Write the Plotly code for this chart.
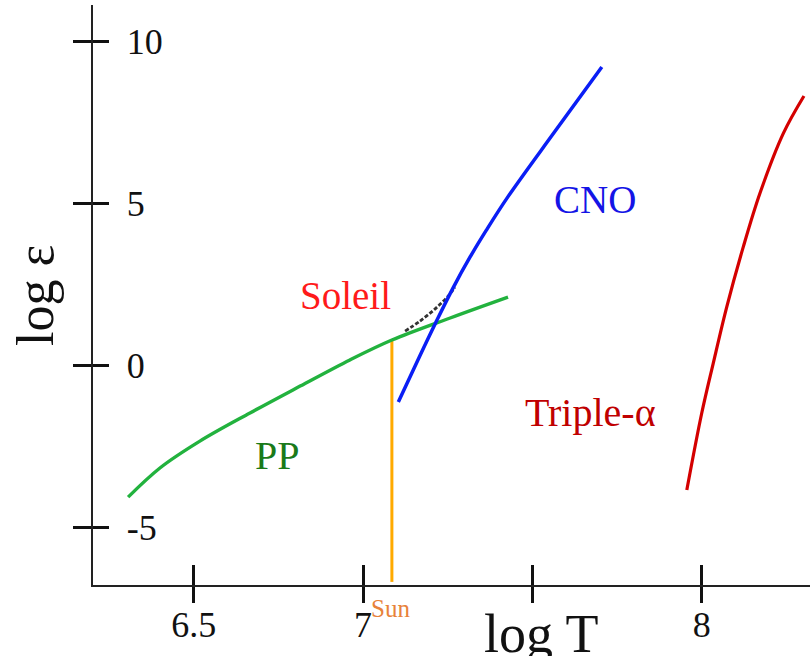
import plotly.graph_objects as go

# ---- data (log T, log epsilon) ----
pp_logT = [6.306, 6.400, 6.518, 6.666, 6.814, 6.961, 7.085, 7.257, 7.428]
pp_logE = [-4.07, -3.17, -2.34, -1.47, -0.64, 0.17, 0.785, 1.465, 2.11]

cno_logT = [7.104, 7.166, 7.214, 7.267, 7.316, 7.364, 7.427, 7.563, 7.705]
cno_logE = [-1.13, 0.26, 1.31, 2.42, 3.35, 4.18, 5.20, 7.18, 9.22]

mix_logT = [7.124, 7.168, 7.212, 7.251, 7.271]
mix_logE = [1.06, 1.37, 1.74, 2.14, 2.42]

tri_logT = [7.956, 8.000, 8.034, 8.074, 8.123, 8.172, 8.241, 8.302]
tri_logE = [-3.85, -1.48, 0.065, 1.81, 3.67, 5.32, 7.17, 8.325]

sun_logT = [7.085, 7.085]
sun_logE = [0.785, -6.69]

x_ticks = [6.5, 7.0, 7.5, 8.0]
x_ticktext = ["6.5", "7", "", "8"]
y_ticks = [10, 5, 0, -5]
y_ticktext = ["10", "5", "0", "-5"]

x_range = [6.2023, 8.3198]
y_range = [-6.786, 11.137]

SERIF = "Liberation Serif, Times New Roman, serif"

fig = go.Figure()
fig.add_trace(go.Scatter(x=sun_logT, y=sun_logE, mode="lines",
                         line=dict(color="#ffaa00", width=3), hoverinfo="skip"))
fig.add_trace(go.Scatter(x=pp_logT, y=pp_logE, mode="lines", line_shape="spline",
                         line=dict(color="#22b23e", width=3.4, smoothing=1.0), hoverinfo="skip"))
fig.add_trace(go.Scatter(x=mix_logT, y=mix_logE, mode="lines", line_shape="spline",
                         line=dict(color="#333333", width=2.8, dash="4px,2px"), hoverinfo="skip"))
fig.add_trace(go.Scatter(x=cno_logT, y=cno_logE, mode="lines", line_shape="spline",
                         line=dict(color="#0a1ef5", width=3.5, smoothing=1.0), hoverinfo="skip"))
fig.add_trace(go.Scatter(x=tri_logT, y=tri_logE, mode="lines", line_shape="spline",
                         line=dict(color="#d40000", width=3.2), hoverinfo="skip"))
# helper trace so the overlaid tick axes are drawn
fig.add_trace(go.Scatter(x=[None], y=[None], xaxis="x2", yaxis="y2",
                         mode="lines", hoverinfo="skip"))

axis_common = dict(showgrid=False, zeroline=False, showline=True,
                   linecolor="#222222", linewidth=2, tickcolor="#111111",
                   tickwidth=3, automargin=False)

fig.update_layout(
    width=810, height=656,
    margin=dict(l=93, r=0, t=5, b=71, autoexpand=False),
    paper_bgcolor="white", plot_bgcolor="white",
    showlegend=False,
    xaxis=dict(range=x_range, tickvals=x_ticks, ticktext=x_ticktext,
               ticks="inside", ticklen=20, ticklabelstandoff=7,
               tickfont=dict(family=SERIF, size=36, color="#111111"),
               **axis_common),
    yaxis=dict(range=y_range, tickvals=y_ticks, ticktext=y_ticktext,
               ticks="outside", ticklen=18, ticklabelposition="inside",
               ticklabelstandoff=38,
               tickfont=dict(family=SERIF, size=36, color="#111111"),
               **axis_common),
    xaxis2=dict(range=x_range, overlaying="x", anchor="y2", side="bottom",
                tickvals=x_ticks, ticks="outside", ticklen=16,
                showticklabels=False, **axis_common),
    yaxis2=dict(range=y_range, overlaying="y", anchor="x2", side="left",
                tickvals=y_ticks, ticks="inside", ticklen=16,
                showticklabels=False, **axis_common),
)

def px(xp):
    return (xp - 93) / 717.0

def py(yp):
    return (585 - yp) / 580.0

labels = [
    ("CNO", 595, 200, 39, "#1414e6", 0),
    ("Soleil", 345, 296, 39, "#ff1a1a", 0),
    ("Triple-α", 590, 412, 40, "#c00000", 0),
    ("PP", 277, 455, 40, "#1a7a1a", 0),
    ("Sun", 390, 608, 25, "#e8823a", 0),
    ("log T", 541, 634, 54, "#111111", 0),
    ("log ε", 36, 296, 52, "#111111", -90),
]
for text, xp, yp, size, color, ang in labels:
    fig.add_annotation(text=text, xref="paper", yref="paper", x=px(xp), y=py(yp),
                       xanchor="center", yanchor="middle", showarrow=False,
                       textangle=ang,
                       font=dict(family=SERIF, size=size, color=color))

fig.write_html("out.html", config={"displayModeBar": False},
               post_script="document.body.style.margin='0';document.body.style.overflow='hidden';")
